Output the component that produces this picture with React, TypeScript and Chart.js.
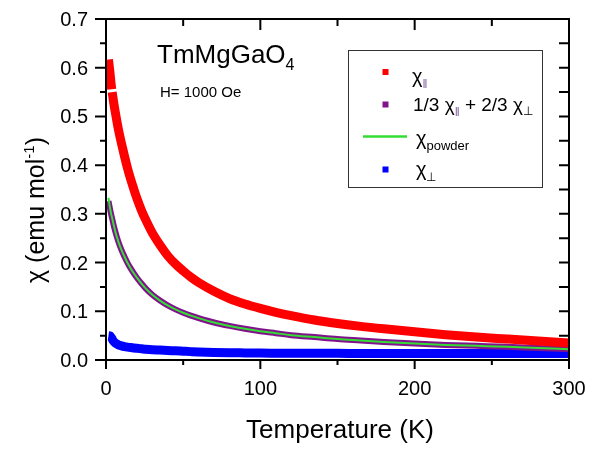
import React, { useEffect, useRef } from "react";
import { Chart, registerables } from "chart.js";

Chart.register(...registerables);

const FONT = "'Liberation Sans', Arial, sans-serif";

// Temperature (K)
const temperature = [
  1.6, 2.5, 3.2, 3.7, 3.8, 4.0, 5, 6, 7, 8, 10, 12, 14, 16, 18, 20, 23, 26, 30, 35, 40, 45, 50, 55, 60,
  70, 80, 90, 100, 110, 120, 135, 150, 165, 180, 200, 220, 240, 260, 280, 300,
];
// chi parallel (null = small gap in the measured data)
const chiParallel = [
  0.617, 0.592, 0.570, 0.556, null, 0.550, 0.528, 0.509, 0.491, 0.474, 0.445, 0.418, 0.393, 0.371, 0.351,
  0.332, 0.307, 0.286, 0.261, 0.236, 0.214, 0.197, 0.183, 0.170, 0.159, 0.141, 0.126, 0.115, 0.106, 0.098,
  0.091, 0.082, 0.075, 0.069, 0.064, 0.058, 0.052, 0.047, 0.043, 0.039, 0.035,
];
// 1/3 chi_par + 2/3 chi_perp
const chiAverage = [
  0.326, 0.312, 0.301, 0.294, 0.293, 0.290, 0.276, 0.264, 0.253, 0.243, 0.226, 0.212, 0.199, 0.188, 0.178,
  0.169, 0.157, 0.146, 0.134, 0.122, 0.112, 0.104, 0.097, 0.091, 0.086, 0.077, 0.070, 0.064, 0.059, 0.055,
  0.051, 0.047, 0.043, 0.040, 0.037, 0.034, 0.031, 0.029, 0.027, 0.0245, 0.0225,
];
// chi powder
const chiPowder = [
  0.333, 0.314, 0.302, 0.295, 0.294, 0.291, 0.277, 0.264, 0.253, 0.243, 0.226, 0.212, 0.199, 0.188, 0.178,
  0.169, 0.157, 0.146, 0.134, 0.122, 0.112, 0.104, 0.097, 0.091, 0.086, 0.077, 0.070, 0.064, 0.059, 0.055,
  0.051, 0.047, 0.043, 0.040, 0.037, 0.034, 0.031, 0.029, 0.027, 0.0245, 0.0222,
];
// chi perpendicular
const chiPerp = [
  0.050, 0.0495, 0.047, 0.045, 0.0445, 0.043, 0.038, 0.035, 0.033, 0.031, 0.029, 0.0275, 0.0264, 0.0255,
  0.0247, 0.024, 0.023, 0.022, 0.021, 0.0203, 0.0195, 0.0188, 0.018, 0.0172, 0.0165, 0.0156, 0.015,
  0.0146, 0.0142, 0.014, 0.0138, 0.0137, 0.0136, 0.0135, 0.0134, 0.0134, 0.0133, 0.0133, 0.0132, 0.0132,
  0.0132,
];

const xMinorTicks = [50, 150, 250];
const xMajorTicks = [0, 100, 200, 300];
const xTickLabels = ["0", "100", "200", "300"];
const yMinorTicks = [0.05, 0.15, 0.25, 0.35, 0.45, 0.55, 0.65];
const yMajorTicks = [0, 0.1, 0.2, 0.3, 0.4, 0.5, 0.6, 0.7];
const yTickLabels = ["0.0", "0.1", "0.2", "0.3", "0.4", "0.5", "0.6", "0.7"];

const RED = "#ff0000";
const PURPLE = "#82128c";
const GREEN = "#33dd33";
const BLUE = "#0000ff";

type Part = { t: string; size: number; dy?: number; color?: string };

function drawParts(ctx: CanvasRenderingContext2D, x: number, y: number, parts: Part[]) {
  let cx = x;
  for (const p of parts) {
    ctx.font = `${p.size}px ${FONT}`;
    ctx.fillStyle = p.color || "#000";
    ctx.fillText(p.t, cx, y + (p.dy || 0));
    cx += ctx.measureText(p.t).width;
  }
  return cx - x;
}

function partsWidth(ctx: CanvasRenderingContext2D, parts: Part[]) {
  let w = 0;
  for (const p of parts) {
    ctx.font = `${p.size}px ${FONT}`;
    w += ctx.measureText(p.t).width;
  }
  return w;
}

const overlay = {
  id: "overlay",
  afterDraw(chart: any) {
    const ctx: CanvasRenderingContext2D = chart.ctx;
    const { left, right, top, bottom } = chart.chartArea;
    const xs = chart.scales.x;
    const ys = chart.scales.y;
    ctx.save();
    ctx.strokeStyle = "#000";
    ctx.lineWidth = 2;
    ctx.strokeRect(left, top, right - left, bottom - top);
    ctx.beginPath();
    for (const v of xMajorTicks) {
      const px = xs.getPixelForValue(v);
      ctx.moveTo(px, bottom);
      ctx.lineTo(px, bottom + 9);
      ctx.moveTo(px, top);
      ctx.lineTo(px, top + 11);
    }
    for (const v of xMinorTicks) {
      const px = xs.getPixelForValue(v);
      ctx.moveTo(px, bottom);
      ctx.lineTo(px, bottom + 5);
      ctx.moveTo(px, top);
      ctx.lineTo(px, top + 7);
    }
    for (const v of yMajorTicks) {
      const py = ys.getPixelForValue(v);
      ctx.moveTo(left, py);
      ctx.lineTo(left - 11, py);
      ctx.moveTo(right, py);
      ctx.lineTo(right - 10, py);
    }
    for (const v of yMinorTicks) {
      const py = ys.getPixelForValue(v);
      ctx.moveTo(left, py);
      ctx.lineTo(left - 6, py);
      ctx.moveTo(right, py);
      ctx.lineTo(right - 10, py);
    }
    ctx.stroke();

    // tick labels
    ctx.font = `20px ${FONT}`;
    ctx.fillStyle = "#000";
    ctx.textBaseline = "alphabetic";
    ctx.textAlign = "center";
    xMajorTicks.forEach((v, i) => {
      ctx.fillText(xTickLabels[i], xs.getPixelForValue(v), bottom + 35);
    });
    ctx.textAlign = "right";
    yMajorTicks.forEach((v, i) => {
      ctx.fillText(yTickLabels[i], left - 18, ys.getPixelForValue(v) + 7);
    });

    ctx.textAlign = "left";
    // title
    drawParts(ctx, 157, 63, [
      { t: "TmMgGaO", size: 26 },
      { t: "4", size: 16, dy: 7 },
    ]);
    drawParts(ctx, 160, 97, [{ t: "H= 1000 Oe", size: 15 }]);

    // legend box
    ctx.lineWidth = 1;
    ctx.strokeStyle = "#333";
    ctx.strokeRect(348.5, 50.5, 194, 137);
    ctx.fillStyle = RED;
    ctx.fillRect(382.5, 69, 6, 6);
    ctx.fillStyle = PURPLE;
    ctx.fillRect(382.5, 101.5, 6, 6);
    ctx.fillStyle = BLUE;
    ctx.fillRect(382.5, 166.5, 6, 6);
    ctx.strokeStyle = GREEN;
    ctx.lineWidth = 2.5;
    ctx.beginPath();
    ctx.moveTo(363, 136.5);
    ctx.lineTo(407, 136.5);
    ctx.stroke();
    const SUBC = "#7a5a9a";
    drawParts(ctx, 412, 82.5, [
      { t: "χ", size: 20 },
      { t: "‖", size: 12, dy: 5, color: SUBC },
    ]);
    drawParts(ctx, 413, 110.5, [
      { t: "1/3 ", size: 19 },
      { t: "χ", size: 19 },
      { t: "‖", size: 12, dy: 5, color: SUBC },
      { t: " + 2/3 ", size: 19 },
      { t: "χ", size: 19 },
      { t: "⊥", size: 12, dy: 4 },
    ]);
    drawParts(ctx, 416, 145, [
      { t: "χ", size: 20 },
      { t: "powder", size: 13, dy: 5 },
    ]);
    drawParts(ctx, 416, 176, [
      { t: "χ", size: 20 },
      { t: "⊥", size: 12, dy: 5 },
    ]);

    // x title
    ctx.font = `26px ${FONT}`;
    ctx.fillStyle = "#000";
    ctx.textAlign = "center";
    ctx.fillText("Temperature (K)", 340, 438);
    ctx.textAlign = "left";

    // y title (rotated)
    const yParts: Part[] = [
      { t: "χ (emu mol", size: 25 },
      { t: "-1", size: 15, dy: -10 },
      { t: ")", size: 25 },
    ];
    const w = partsWidth(ctx, yParts);
    ctx.save();
    ctx.translate(44, 210);
    ctx.rotate(-Math.PI / 2);
    drawParts(ctx, -w / 2, 0, yParts);
    ctx.restore();

    ctx.restore();
  },
};

export default function App() {
  const ref = useRef<HTMLCanvasElement | null>(null);
  useEffect(() => {
    if (!ref.current) return;
    const mk = (vals: (number | null)[]) =>
      temperature.map((t, i) => ({ x: t, y: vals[i] as any }));
    const chart = new Chart(ref.current, {
      type: "line",
      data: {
        datasets: [
          {
            label: "χ∥",
            data: mk(chiParallel),
            borderColor: RED,
            borderWidth: 9,
            pointRadius: 0,
            spanGaps: false,
            order: 1,
            cubicInterpolationMode: "monotone",
          },
          {
            label: "1/3 χ∥ + 2/3 χ⊥",
            data: mk(chiAverage),
            borderColor: PURPLE,
            borderWidth: 6,
            pointRadius: 0,
            order: 2,
            cubicInterpolationMode: "monotone",
          },
          {
            label: "χpowder",
            data: mk(chiPowder),
            borderColor: GREEN,
            borderWidth: 2,
            pointRadius: 0,
            order: 0,
            cubicInterpolationMode: "monotone",
          },
          {
            label: "χ⊥",
            data: mk(chiPerp),
            borderColor: BLUE,
            borderWidth: 9,
            pointRadius: 0,
            order: 3,
            cubicInterpolationMode: "monotone",
          },
        ],
      },
      options: {
        responsive: false,
        animation: false,
        devicePixelRatio: 1,
        layout: { padding: { top: 19, right: 22, left: 0, bottom: 0 } },
        plugins: { legend: { display: false }, tooltip: { enabled: false } },
        scales: {
          x: {
            type: "linear",
            min: 0,
            max: 300,
            grid: { display: false, drawTicks: false },
            border: { display: false },
            ticks: { display: false, stepSize: 100 },
            afterFit: (s: any) => {
              s.height = 94;
            },
          },
          y: {
            type: "linear",
            min: 0,
            max: 0.7,
            grid: { display: false, drawTicks: false },
            border: { display: false },
            ticks: { display: false, stepSize: 0.1 },
            afterFit: (s: any) => {
              s.width = 106;
            },
          },
        },
      },
      plugins: [overlay],
    } as any);
    return () => chart.destroy();
  }, []);
  return (
    <div style={{ position: "absolute", left: 0, top: 0, width: 591, height: 454, background: "#fff" }}>
      <canvas ref={ref} width={591} height={454} />
    </div>
  );
}
